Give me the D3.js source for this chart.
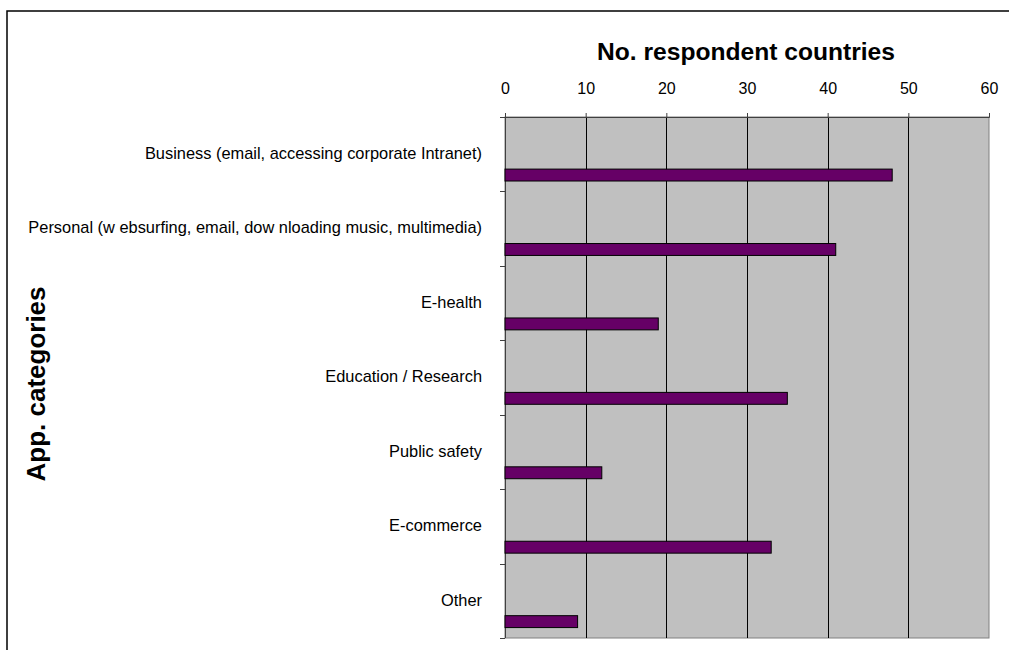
<!DOCTYPE html>
<html><head><meta charset="utf-8">
<script src="https://cdn.jsdelivr.net/npm/d3@7/dist/d3.min.js"></script>
<style>body{margin:0;background:#fff;}svg{display:block;font-family:"Liberation Sans",Arial,sans-serif;}</style>
</head><body>
<script>
const categories = [
  "Business (email, accessing corporate Intranet)",
  "Personal (w ebsurfing, email, dow nloading music, multimedia)",
  "E-health",
  "Education / Research",
  "Public safety",
  "E-commerce",
  "Other"
];
const values = [48, 41, 19, 35, 12, 33, 9];
const xTicks = [0, 10, 20, 30, 40, 50, 60];
const xTitle = "No. respondent countries";
const yTitle = "App. categories";

const W = 1009, H = 650;
const svg = d3.select("body").append("svg").attr("width", W).attr("height", H);

// outer frame
svg.append("rect").attr("x", 7).attr("y", 11).attr("width", W + 10).attr("height", H + 10)
  .attr("fill", "none").attr("stroke", "#000").attr("stroke-width", 1.5);

const m = {left: 505, right: 989, top: 117, bottom: 638};
const x = d3.scaleLinear().domain([0, 60]).range([m.left, m.right]);
const y = d3.scaleBand().domain(categories).range([m.top, m.bottom]);

// plot background
svg.append("rect").attr("x", m.left).attr("y", m.top)
  .attr("width", m.right - m.left).attr("height", m.bottom - m.top)
  .attr("fill", "#C0C0C0").attr("stroke", "#808080").attr("stroke-width", 1);

// gridlines
svg.append("g").selectAll("line").data(xTicks.slice(1, -1)).join("line")
  .attr("x1", d => Math.round(x(d)) + 0.5).attr("x2", d => Math.round(x(d)) + 0.5)
  .attr("y1", m.top).attr("y2", m.bottom)
  .attr("stroke", "#000").attr("stroke-width", 1);

// top axis
const xAxis = d3.axisTop(x).tickValues(xTicks).tickSize(4).tickPadding(19).tickFormat(d3.format("d"));
const gx = svg.append("g").attr("transform", `translate(0,${m.top})`).call(xAxis);
gx.attr("font-size", 16).attr("font-family", '"Liberation Sans",Arial,sans-serif');
gx.select(".domain").attr("stroke", "#404040");
gx.selectAll(".tick line").attr("stroke", "#404040");
gx.selectAll("text").attr("font-size", 16).attr("fill", "#000");

// left axis ticks at band boundaries
const bounds = categories.map(c => y(c)).concat([m.bottom]);
svg.append("g").selectAll("line").data(bounds).join("line")
  .attr("x1", m.left - 5).attr("x2", m.left)
  .attr("y1", d => Math.round(d) + 0.5).attr("y2", d => Math.round(d) + 0.5)
  .attr("stroke", "#404040");
svg.append("line").attr("x1", m.left + 0.5).attr("x2", m.left + 0.5)
  .attr("y1", m.top).attr("y2", m.bottom).attr("stroke", "#404040");

// category labels
svg.append("g").selectAll("text").data(categories).join("text")
  .attr("x", 482).attr("y", d => y(d) + 42)
  .attr("text-anchor", "end").attr("font-size", 16.4).attr("fill", "#000")
  .text(d => d);

// bars (lower part of each band)
svg.append("g").selectAll("rect").data(values).join("rect")
  .attr("x", x(0)).attr("y", (d, i) => y(categories[i]) + y.bandwidth() * 0.7)
  .attr("width", d => x(d) - x(0)).attr("height", y.bandwidth() * 0.16)
  .attr("fill", "#660066").attr("stroke", "#000").attr("stroke-width", 1);

// titles
svg.append("text").attr("x", 746).attr("y", 60).attr("text-anchor", "middle")
  .attr("font-size", 24.6).attr("font-weight", "bold").text(xTitle);
svg.append("text").attr("transform", `translate(45,384) rotate(-90)`)
  .attr("text-anchor", "middle").attr("font-size", 26).attr("font-weight", "bold").text(yTitle);
</script>
</body></html>
